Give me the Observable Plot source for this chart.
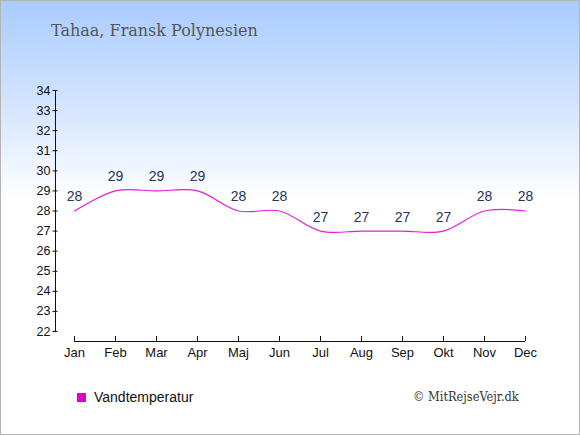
<!DOCTYPE html>
<html>
<head>
<meta charset="utf-8">
<script src="https://cdn.jsdelivr.net/npm/d3@7"></script>
<script src="https://cdn.jsdelivr.net/npm/@observablehq/plot@0.6"></script>
<style>
  html, body { margin: 0; padding: 0; background: #fff; }
  #wrap { position: relative; width: 580px; height: 435px; overflow: hidden;
    background: linear-gradient(to bottom, #a9cbff 0px, #d6e6ff 110px, #ffffff 200px, #ffffff 435px); }
  #border { position: absolute; left: 0; top: 0; width: 580px; height: 435px; box-sizing: border-box;
    border: 1px solid #b4b4b4; pointer-events: none; }
  #title { position: absolute; left: 51px; top: 21px; font-family: "DejaVu Serif", serif; font-size: 16px; color: #555; white-space: nowrap; }
  #chart { position: absolute; left: 0; top: 0; }
  #legend { position: absolute; left: 77px; top: 389px; font-family: "Liberation Sans", Arial, sans-serif; font-size: 14px; color: #111; display: flex; align-items: center; }
  #legend .sw { width: 9px; height: 9px; margin-right: 8px; }
  #credit { position: absolute; left: 413px; top: 389px; font-family: "DejaVu Serif", serif; font-stretch: condensed; font-size: 12.7px; color: #333; white-space: nowrap; }
</style>
</head>
<body>
<div id="wrap">
  <div id="title"></div>
  <div id="chart"></div>
  <div id="legend"></div>
  <div id="credit"></div>
  <div id="border"></div>
</div>
<script>
const titleText = "Tahaa, Fransk Polynesien";
const months = ["Jan","Feb","Mar","Apr","Maj","Jun","Jul","Aug","Sep","Okt","Nov","Dec"];
const waterTemp = [28, 29, 29, 29, 28, 28, 27, 27, 27, 27, 28, 28];
const yTicks = [22,23,24,25,26,27,28,29,30,31,32,33,34];
const seriesName = "Vandtemperatur";
const seriesColor = "#e020d8";
const swatchColor = "#dd00cc";
const creditText = "© MitRejseVejr.dk";

const data = months.map((m, i) => ({month: m, temp: waterTemp[i]}));

document.getElementById("title").textContent = titleText;
document.getElementById("credit").textContent = creditText;
const lg = document.getElementById("legend");
const sw = document.createElement("span"); sw.className = "sw"; sw.style.background = swatchColor;
const lt = document.createElement("span"); lt.textContent = seriesName;
lg.appendChild(sw); lg.appendChild(lt);

const chart = Plot.plot({
  width: 580,
  height: 435,
  marginLeft: 55,
  marginRight: 55,
  marginTop: 90,
  marginBottom: 104,
  style: { background: "transparent", fontFamily: "'Liberation Sans', Arial, sans-serif", fontSize: "13px", color: "#111" },
  x: { type: "point", domain: months, range: [74, 525], padding: 0, label: null },
  y: { domain: [22, 34], label: null },
  marks: [
    Plot.frame({ anchor: "left", stroke: "#111" }),
    Plot.axisY({ ticks: yTicks, tickSize: 5, dx: 2.5, tickPadding: 2.5, tickFormat: d => String(d), fontSize: 12.5, stroke: "#111", fill: "#111", label: null }),
    Plot.ruleY([22], { x1: () => months[0], x2: () => months[months.length - 1], dy: 10, stroke: "#111" }),
    Plot.axisX({ tickSize: 5, dy: 5, tickPadding: 6, fontSize: 13, stroke: "#111", fill: "#111", label: null }),
    Plot.line(data, { x: "month", y: "temp", curve: "catmull-rom", stroke: seriesColor, strokeWidth: 1.2 }),
    Plot.text(data, { x: "month", y: "temp", text: d => String(d.temp), dy: -14, fill: "#253755", fontSize: 14 })
  ]
});
document.getElementById("chart").appendChild(chart);
</script>
</body>
</html>
